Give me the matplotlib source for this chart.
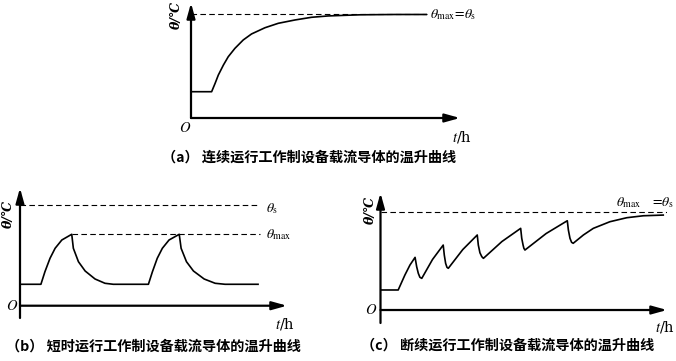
import matplotlib
matplotlib.use("Agg")
import matplotlib.pyplot as plt

plt.rcParams['mathtext.fontset'] = 'stix'
plt.rcParams['font.family'] = ['DejaVu Sans', 'Noto Sans CJK SC']

W, H = 676, 361

# ---------------- data (t in h, theta normalised so theta_max = 100) ----------------
# (a) continuous operation
a_t = [0, 0.77, 0.90, 1.02, 1.21, 1.39, 1.64, 1.95, 2.26, 2.76, 3.26, 3.88, 4.50, 5.12, 5.75, 6.31, 7.61, 8.81]
a_theta = [25.4, 25.4, 33.5, 41.5, 51.2, 59.2, 67.3, 75.4, 81.2, 87.2, 91.5, 94.7, 97.3, 98.6, 99.2, 99.7, 100, 100]
a_theta_s = 100
a_dash_end = 8.81

# (b) short-time operation
b_t = [0, 0.78, 0.93, 1.12, 1.31, 1.56, 1.93, 1.99, 2.18, 2.43, 2.80, 3.17, 3.48, 4.79,
       4.94, 5.12, 5.31, 5.56, 5.94, 6.01, 6.21, 6.47, 6.87, 7.28, 7.65, 8.88]
b_theta = [30.0, 30.0, 47.6, 66.4, 80.4, 92.0, 100, 80.4, 61.6, 48.6, 37.4, 31.4, 30.0, 30.0,
           47.6, 66.4, 80.4, 92.0, 100, 80.4, 61.6, 48.6, 37.4, 31.4, 30.0, 30.0]
b_theta_s = 141
b_theta_max = 100
b_peak_t = 1.93
b_dash_end = 8.96

# (c) intermittent operation
c_t = [0, 0.66, 0.91, 1.10, 1.29, 1.35, 1.41, 1.47, 1.54, 1.94, 2.34, 2.38, 2.43, 2.48, 2.53,
       3.07, 3.61, 3.65, 3.71, 3.78, 3.84, 4.53, 5.23, 5.27, 5.32, 5.35, 5.39, 6.18, 6.97,
       7.01, 7.07, 7.13, 7.19, 7.57, 7.94, 8.56, 9.19, 9.81, 10.55]
c_theta = [20.5, 20.5, 35.8, 46.1, 53.9, 44.3, 37.6, 33.5, 32.4, 51.7, 66.5, 56.3, 47.8, 43.7, 42.7,
           61.9, 76.8, 66.5, 58.6, 54.6, 52.9, 70.1, 83.6, 73.4, 66.5, 63.2, 61.4, 78.3, 91.4,
           81.9, 73.4, 69.3, 68.3, 76.8, 83.6, 90.4, 94.5, 96.5, 97.2]
c_theta_s = 100
c_dash_end = 10.69

captions = ["（a） 连续运行工作制设备载流导体的温升曲线",
            "（b） 短时运行工作制设备载流导体的温升曲线",
            "（c） 断续运行工作制设备载流导体的温升曲线"]

fig = plt.figure(figsize=(W / 100, H / 100), dpi=100)


def px_axes(x0, x1, ytop, ybot):
    return fig.add_axes([x0 / W, 1 - ybot / H, (x1 - x0) / W, (ybot - ytop) / H])


def ftext(x, y, s, **kw):
    fig.text(x / W, 1 - y / H, s, **kw)


AX_LW = 1.6
CURVE_LW = 1.2
DASH = dict(color='black', lw=0.8, linestyle=(0, (5, 3)))


def draw_axes(ax, xmax, ymin, ymax):
    ax.set_xlim(0, xmax)
    ax.set_ylim(ymin, ymax)
    ax.axis('off')
    ap = dict(arrowstyle='-|>,head_length=0.9,head_width=0.25', lw=AX_LW, color='black',
              shrinkA=0, shrinkB=0)
    ax.annotate('', xy=(xmax, 0), xytext=(0, 0), arrowprops=ap, annotation_clip=False)
    ax.annotate('', xy=(0, ymax), xytext=(0, ymin), arrowprops=ap, annotation_clip=False)


# ---- (a)
axa = px_axes(191, 460, 3, 118)
draw_axes(axa, 10.04, 0, 111.1)
axa.plot([0, a_dash_end], [a_theta_s, a_theta_s], **DASH)
axa.plot(a_t, a_theta, color='black', lw=CURVE_LW, solid_capstyle='butt')

# ---- (b)
axb = px_axes(20, 287, 188, 318)
draw_axes(axb, 9.96, -17.2, 164.8)
axb.plot([0, b_dash_end], [b_theta_s, b_theta_s], **DASH)
axb.plot([b_peak_t, b_dash_end], [b_theta_max, b_theta_max], **DASH)
axb.plot(b_t, b_theta, color='black', lw=CURVE_LW)

# ---- (c)
axc = px_axes(380.5, 667, 193, 323)
draw_axes(axc, 10.69, -13.3, 119.8)
axc.plot([0, c_dash_end], [c_theta_s, c_theta_s], **DASH)
axc.plot(c_t, c_theta, color='black', lw=CURVE_LW)

# ---------------- texts ----------------
ylab_kw = dict(fontsize=9, rotation=90, ha='center', va='center', color='black',
               family=['DejaVu Serif', 'Noto Sans CJK SC'], fontweight='bold', fontstyle='italic')

# (a)
ftext(176, 15, 'θ/℃', **ylab_kw)
ftext(185, 127, '$O$', fontsize=10.5, ha='center', va='center')
ftext(462, 137, '$t$/h', fontsize=10.5, ha='center', va='center', family='DejaVu Serif')
ftext(430, 15, r'$\theta_{\rm max}\!=\!\theta_{\rm s}$', fontsize=10, ha='left', va='center')

# (b)
ftext(8, 214, 'θ/℃', **ylab_kw)
ftext(12, 306, '$O$', fontsize=10.5, ha='center', va='center')
ftext(285, 324, '$t$/h', fontsize=10.5, ha='center', va='center', family='DejaVu Serif')
ftext(266, 209, r'$\theta_{\rm s}$', fontsize=10, ha='left', va='center')
ftext(266, 235, r'$\theta_{\rm max}$', fontsize=10, ha='left', va='center')

# (c)
ftext(370, 210, 'θ/℃', **ylab_kw)
ftext(371, 310, '$O$', fontsize=10.5, ha='center', va='center')
ftext(665, 327, '$t$/h', fontsize=10.5, ha='center', va='center', family='DejaVu Serif')
ftext(616, 203, r'$\theta_{\rm max}\ \ \ =\!\theta_{\rm s}$', fontsize=10, ha='left', va='center')

cap_kw = dict(fontsize=10.2, ha='center', va='center', family=['Noto Sans CJK SC', 'DejaVu Sans'],
              fontweight='bold', color='black')
ftext(309, 158, captions[0], **cap_kw)
ftext(153, 347, captions[1], **cap_kw)
ftext(508, 346, captions[2], **cap_kw)

fig.savefig('out.png', dpi=100)
